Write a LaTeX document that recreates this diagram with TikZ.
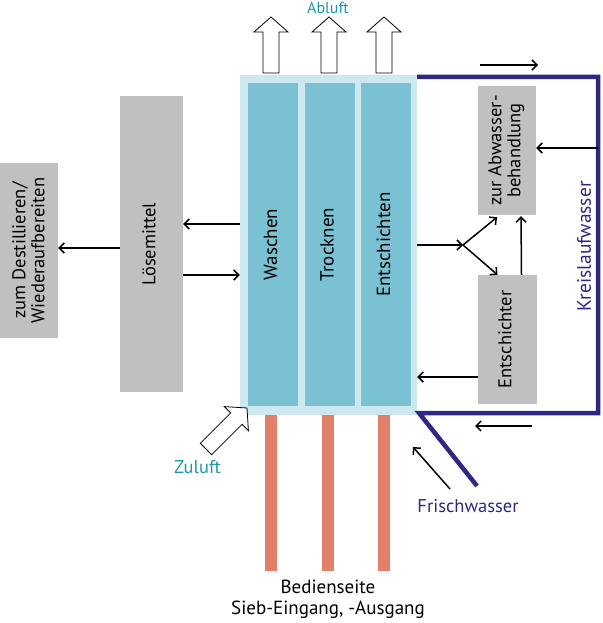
\documentclass[tikz,border=0pt]{standalone}
\usepackage{fontspec}
\setmainfont{PT Sans}
\usetikzlibrary{arrows.meta}
\definecolor{framelight}{RGB}{206,232,240}
\definecolor{chamber}{RGB}{122,193,211}
\definecolor{boxgray}{RGB}{192,192,192}
\definecolor{sieve}{RGB}{225,128,104}
\definecolor{waterblue}{RGB}{46,40,132}
\definecolor{airteal}{RGB}{26,152,176}
\newcommand{\vtext}[1]{\rotatebox{90}{\begin{tabular}{@{}c@{}}#1\end{tabular}}}

\begin{document}
\begin{tikzpicture}[x=1pt,y=-1pt,>={Straight Barb[length=5pt,width=10pt]},
  frame/.style={fill=framelight,minimum width=177pt,minimum height=340pt,inner sep=0pt},
  chamber/.style={fill=chamber,minimum width=50pt,minimum height=322pt,inner sep=0pt,
                  font=\fontsize{19}{20}\selectfont},
  graybox/.style={fill=boxgray,inner sep=0pt,font=\fontsize{18.5}{19}\selectfont},
  flow/.style={->,line width=1.5pt},
  water/.style={draw=waterblue,line width=4.5pt},
  hollow/.style={draw,fill=white,line width=0.8pt,line join=miter}]
  \useasboundingbox (0,0) rectangle (602,623);

  % Siebreinigungsanlage
  \node[frame] (frame) at (328.5,245) {};
  \node[chamber] (wasch) at (273,244.5) {\vtext{Waschen}};
  \node[chamber] (trock) at (329.5,244.5) {\vtext{Trocknen}};
  \node[chamber] (entsch) at (386,244.5) {\vtext{Entschichten}};

  \foreach \x in {271,328,384}
    \fill[sieve] (\x-6,415) rectangle (\x+6,571);

  % Abluft / Zuluft
  \foreach \x in {271,329,384}
    \draw[hollow] (\x-8,73) -- (\x-8,32) -- (\x-17,32) -- (\x,17)
      -- (\x+17,32) -- (\x+8,32) -- (\x+8,73) -- cycle;
  \node[text=airteal,font=\fontsize{16}{18}\selectfont] (abluft) at (328,8) {Abluft};
  \draw[hollow] (247,408) -- (224.4,406.6) -- (230.7,412.9) -- (200.3,443.3)
    -- (211.7,454.7) -- (242.1,424.3) -- (248.4,430.6) -- cycle;
  \node[text=airteal,font=\fontsize{18.5}{20}\selectfont] (zuluft) at (197.5,467) {Zuluft};

  % Loesemittel
  \node[graybox,minimum width=63pt,minimum height=296pt] (loes) at (151.5,244) {\vtext{Lösemittel}};
  \node[graybox,minimum width=58pt,minimum height=175pt] (dest) at (29,250.5)
    {\hspace*{4pt}\vtext{zum Destillieren/\\Wiederaufbereiten}};
  \draw[flow] (loes.west |- 0,248) -- (dest.east |- 0,248);
  \draw[flow] (frame.west |- 0,224) -- (loes.east |- 0,224);
  \draw[flow] (loes.east |- 0,275) -- (frame.west |- 0,275);

  % Kreislaufwasser
  \node[graybox,minimum width=58pt,minimum height=129pt] (abw) at (507,150.5)
    {\vtext{zur Abwasser-\\behandlung}};
  \node[graybox,minimum width=59pt,minimum height=129pt] (entschr) at (507.5,339.5)
    {\vtext{Entschichter}};
  \coordinate (kr1) at (598,77);
  \coordinate (kr2) at (598,413);
  \coordinate (fresh) at (477,486);
  \draw[water] (frame.east |- kr1) -- (kr1) -- (kr2) -- (419,413) -- (fresh);
  \node[text=waterblue,font=\fontsize{19.5}{20}\selectfont,rotate=90] (kreis) at (584,246.5) {Kreislaufwasser};
  \node[text=waterblue,font=\fontsize{18.5}{20}\selectfont] (frisch) at (468,506) {Frischwasser};

  \coordinate (fork) at (463,245);
  \draw[flow] (frame.east |- fork) -- (fork);
  \draw[flow] (fork) -- ([xshift=-10pt,yshift=-2pt]abw.south);
  \draw[flow] (fork) -- ([xshift=-10pt]entschr.north);
  \draw[flow] ([xshift=14pt]entschr.north) -- ([xshift=14pt,yshift=-1pt]abw.south);
  \draw[flow] (kr1 |- 0,148) -- (abw.east |- 0,148);
  \draw[flow] (entschr.west |- 0,377) -- (frame.east |- 0,377);
  \draw[flow] (480,65) -- (538,65);
  \draw[flow] (532,426) -- (475,426);
  \draw[flow] (450,489) -- (413,447);

  \node[align=center,font=\fontsize{19}{21}\selectfont] (bedien) at (328,599)
    {Bedienseite\\Sieb-Eingang, -Ausgang};
\end{tikzpicture}
\end{document}
